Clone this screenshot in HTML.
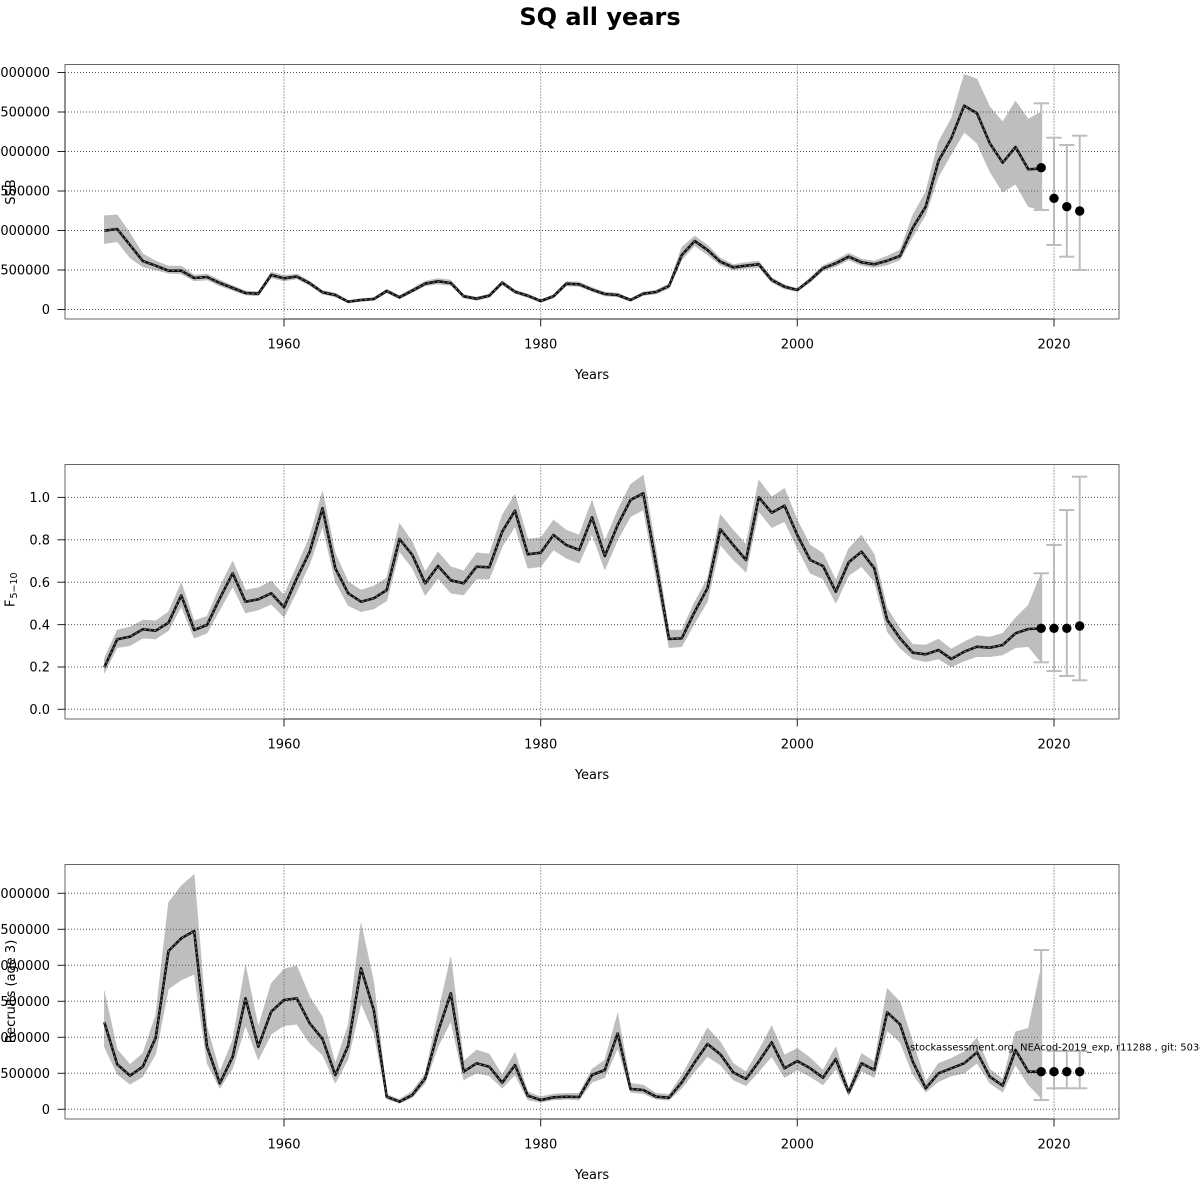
<!DOCTYPE html>
<html><head><meta charset="utf-8"><style>
html,body{margin:0;padding:0;background:#fff;}
svg{display:block;font-family:"DejaVu Sans","Liberation Sans",sans-serif;}
.grid{stroke:#555;stroke-width:1;stroke-dasharray:1,2;fill:none;}
.box{stroke:#666;stroke-width:1;fill:none;}
.ax{stroke:#222;stroke-width:1;fill:none;}
.band{fill:#bebebe;stroke:#bebebe;stroke-width:0.5;}
.ml{fill:none;stroke:#111;stroke-width:2.6;stroke-linejoin:round;}
.md{fill:none;stroke:#8a8a8a;stroke-width:0.9;stroke-dasharray:2,3;}
.eb{stroke:#bdbdbd;stroke-width:2;fill:none;}
.tl{font-size:13px;fill:#000;}
</style></head><body>
<svg width="1200" height="1200" viewBox="0 0 1200 1200" xmlns="http://www.w3.org/2000/svg">
<rect width="1200" height="1200" fill="#fff"/>
<text x="600" y="25" text-anchor="middle" font-size="24" font-weight="bold">SQ all years</text>

<!-- ============ TOP PANEL: SSB ============ -->
<polygon class="band" points="104.3,215.7 117.2,214.7 130,233 142.8,253.7 155.7,261 168.5,266 181.3,266 194.2,275 207,274 219.8,280 232.7,285.5 245.5,291 258.3,291.5 271.2,272 284,275.5 296.8,274 309.7,281 322.5,290.5 335.3,293 348.2,300.5 361,298.5 373.8,297.5 386.7,289 399.5,295.5 412.3,288.5 425.2,281 438,278.5 450.8,280 463.7,294.5 476.5,297 489.3,294 502.2,280.5 515,290 527.8,294 540.7,299.5 553.5,294.5 566.3,281.5 579.2,282 592,287.5 604.8,292 617.7,293 630.5,298.5 643.3,292 656.2,290 669,283.5 681.8,247 694.7,236 707.5,245 720.3,258 733.2,264.5 746,262.5 758.8,261 771.7,277.5 784.5,284.5 797.3,288.5 810.2,277.5 823,265.5 835.8,260 848.7,253 861.5,259 874.3,261 887.2,256 900,250 912.8,215 925.7,191.7 938.5,141.7 951.3,118.3 964.2,74.3 977,79 989.8,106.7 1002.7,121.7 1015.5,101 1028.3,119 1041.2,111.7 1041.2,210 1028.3,206.7 1015.5,184.3 1002.7,192.3 989.8,171.7 977,143.3 964.2,132.3 951.3,154.3 938.5,176.7 925.7,215 912.8,236.7 900,260 887.2,265 874.3,267.5 861.5,265.5 848.7,260 835.8,266.5 823,271 810.2,282.5 797.3,291.5 784.5,289 771.7,282.5 758.8,267.5 746,268.5 733.2,270 720.3,265 707.5,255 694.7,245.7 681.8,260 669,288.5 656.2,294 643.3,295.5 630.5,301.5 617.7,297 604.8,296 592,291.5 579.2,286.5 566.3,286 553.5,298 540.7,302.5 527.8,297.5 515,293.5 502.2,285 489.3,297.5 476.5,300.5 463.7,298 450.8,285.5 438,284 425.2,286 412.3,292.5 399.5,299 386.7,293 373.8,300.5 361,301.5 348.2,303 335.3,297 322.5,294 309.7,285.5 296.8,279 284,281 271.2,278 258.3,296 245.5,295 232.7,290.5 219.8,286 207,280 194.2,281 181.3,274 168.5,273.3 155.7,270 142.8,267 130,258 117.2,241.7 104.3,243.7"/>
<g class="grid">
<line x1="65" x2="1119" y1="309.5" y2="309.5"/><line x1="65" x2="1119" y1="270" y2="270"/><line x1="65" x2="1119" y1="230.5" y2="230.5"/><line x1="65" x2="1119" y1="191" y2="191"/><line x1="65" x2="1119" y1="151.5" y2="151.5"/><line x1="65" x2="1119" y1="112" y2="112"/><line x1="65" x2="1119" y1="72.5" y2="72.5"/>
<line x1="284" x2="284" y1="64.5" y2="319"/><line x1="540.7" x2="540.7" y1="64.5" y2="319"/><line x1="797.3" x2="797.3" y1="64.5" y2="319"/><line x1="1054" x2="1054" y1="64.5" y2="319"/>
</g>
<polyline class="ml" points="104.3,230.7 117.2,229 130,245 142.8,261 155.7,265.7 168.5,270.7 181.3,270.7 194.2,278 207,277 219.8,283 232.7,288 245.5,293 258.3,293.7 271.2,275 284,278.3 296.8,276.5 309.7,283.3 322.5,292.3 335.3,295 348.2,301.7 361,300 373.8,299 386.7,291 399.5,297.3 412.3,290.7 425.2,283.7 438,281.3 450.8,283 463.7,296.3 476.5,298.7 489.3,295.7 502.2,282.7 515,291.7 527.8,295.7 540.7,301 553.5,296.3 566.3,283.7 579.2,284.3 592,289.7 604.8,294 617.7,295 630.5,300 643.3,293.7 656.2,292 669,286 681.8,255 694.7,241 707.5,250 720.3,261.7 733.2,267.3 746,265.7 758.8,264.3 771.7,280 784.5,286.7 797.3,290 810.2,280 823,268.3 835.8,263.3 848.7,256.7 861.5,262.3 874.3,264.3 887.2,260.7 900,256 912.8,227.7 925.7,206.7 938.5,161 951.3,138.3 964.2,105.7 977,113.3 989.8,143.3 1002.7,162.7 1015.5,147 1028.3,169.3 1041.2,168.5"/>
<polyline class="md" points="104.3,230.7 117.2,229 130,245 142.8,261 155.7,265.7 168.5,270.7 181.3,270.7 194.2,278 207,277 219.8,283 232.7,288 245.5,293 258.3,293.7 271.2,275 284,278.3 296.8,276.5 309.7,283.3 322.5,292.3 335.3,295 348.2,301.7 361,300 373.8,299 386.7,291 399.5,297.3 412.3,290.7 425.2,283.7 438,281.3 450.8,283 463.7,296.3 476.5,298.7 489.3,295.7 502.2,282.7 515,291.7 527.8,295.7 540.7,301 553.5,296.3 566.3,283.7 579.2,284.3 592,289.7 604.8,294 617.7,295 630.5,300 643.3,293.7 656.2,292 669,286 681.8,255 694.7,241 707.5,250 720.3,261.7 733.2,267.3 746,265.7 758.8,264.3 771.7,280 784.5,286.7 797.3,290 810.2,280 823,268.3 835.8,263.3 848.7,256.7 861.5,262.3 874.3,264.3 887.2,260.7 900,256 912.8,227.7 925.7,206.7 938.5,161 951.3,138.3 964.2,105.7 977,113.3 989.8,143.3 1002.7,162.7 1015.5,147 1028.3,169.3 1041.2,168.5"/>
<g class="eb">
<line x1="1041.2" x2="1041.2" y1="103.3" y2="210"/><line x1="1033.5" x2="1049" y1="103.3" y2="103.3"/><line x1="1033.5" x2="1049" y1="210" y2="210"/>
<line x1="1054" x2="1054" y1="137.7" y2="245"/><line x1="1046.3" x2="1061.7" y1="137.7" y2="137.7"/><line x1="1046.3" x2="1061.7" y1="245" y2="245"/>
<line x1="1066.8" x2="1066.8" y1="145" y2="256.7"/><line x1="1059.1" x2="1074.5" y1="145" y2="145"/><line x1="1059.1" x2="1074.5" y1="256.7" y2="256.7"/>
<line x1="1079.7" x2="1079.7" y1="135.7" y2="270"/><line x1="1072" x2="1087.4" y1="135.7" y2="135.7"/><line x1="1072" x2="1087.4" y1="270" y2="270"/>
</g>
<g fill="#000"><circle cx="1041.2" cy="167.7" r="4.7"/><circle cx="1054" cy="198.3" r="4.7"/><circle cx="1066.8" cy="206.7" r="4.7"/><circle cx="1079.7" cy="211" r="4.7"/></g>
<rect class="box" x="65" y="64.5" width="1054" height="254.5"/>
<g class="ax">
<line x1="65" x2="65" y1="72.5" y2="309.5"/>
<line x1="57.5" x2="65" y1="309.5" y2="309.5"/><line x1="57.5" x2="65" y1="270" y2="270"/><line x1="57.5" x2="65" y1="230.5" y2="230.5"/><line x1="57.5" x2="65" y1="191" y2="191"/><line x1="57.5" x2="65" y1="151.5" y2="151.5"/><line x1="57.5" x2="65" y1="112" y2="112"/><line x1="57.5" x2="65" y1="72.5" y2="72.5"/>
<line x1="284" x2="1054" y1="319" y2="319"/>
<line x1="284" x2="284" y1="319" y2="326.5"/><line x1="540.7" x2="540.7" y1="319" y2="326.5"/><line x1="797.3" x2="797.3" y1="319" y2="326.5"/><line x1="1054" x2="1054" y1="319" y2="326.5"/>
</g>
<g class="tl" text-anchor="end">
<text x="50" y="314.2">0</text><text x="50" y="274.7">500000</text><text x="50" y="235.2">1000000</text><text x="50" y="195.7">1500000</text><text x="50" y="156.2">2000000</text><text x="50" y="116.7">2500000</text><text x="50" y="77.2">3000000</text>
</g>
<g class="tl" text-anchor="middle">
<text x="284" y="348.3">1960</text><text x="540.7" y="348.3">1980</text><text x="797.3" y="348.3">2000</text><text x="1054" y="348.3">2020</text>
<text x="592" y="379">Years</text>
</g>
<text class="tl" transform="translate(15,192) rotate(-90)" text-anchor="middle">SSB</text>

<!-- ============ MIDDLE PANEL: F ============ -->
<polygon class="band" points="104.3,658.3 117.2,630 130,627 142.8,620 155.7,620.7 168.5,611.7 181.3,582.7 194.2,620.7 207,616.3 219.8,586.7 232.7,561 245.5,590 258.3,587.7 271.2,581 284,595 296.8,566 309.7,536.7 322.5,491 335.3,553.3 348.2,581.7 361,590 373.8,586 386.7,577.7 399.5,523.3 412.3,541.7 425.2,571.7 438,551.7 450.8,566.7 463.7,570.7 476.5,552.7 489.3,554 502.2,515 515,494.3 527.8,539 540.7,537.7 553.5,520 566.3,530 579.2,535 592,500 604.8,541 617.7,510 630.5,484.3 643.3,475 656.2,550 669,630 681.8,630 694.7,601.7 707.5,578.3 720.3,514.3 733.2,530 746,544.3 758.8,480 771.7,496.7 784.5,488.3 797.3,520 810.2,545 823,553.3 835.8,580 848.7,548.3 861.5,535 874.3,554.3 887.2,608.3 900,628.3 912.8,644.3 925.7,645 938.5,639 951.3,649 964.2,641.7 977,635.7 989.8,637 1002.7,633.3 1015.5,617.7 1028.3,605 1041.2,573.3 1041.2,662.3 1028.3,646.7 1015.5,647.7 1002.7,655 989.8,656.7 977,656.7 964.2,661 951.3,667 938.5,659 925.7,661.7 912.8,659 900,648.3 887.2,631.7 874.3,581.7 861.5,566.7 848.7,575.7 835.8,603.3 823,579 810.2,573.3 797.3,548.3 784.5,521.7 771.7,527.7 758.8,511.7 746,572.3 733.2,560 720.3,545 707.5,601.7 694.7,623.3 681.8,646.7 669,647.7 656.2,580 643.3,510 630.5,516.7 617.7,540 604.8,570 592,534.3 579.2,563.3 566.3,558.3 553.5,550 540.7,566.7 527.8,568.3 515,526.7 502.2,546.7 489.3,579.3 476.5,579 463.7,595 450.8,593.3 438,578.3 425.2,595.7 412.3,568.3 399.5,551.7 386.7,601 373.8,609 361,611.7 348.2,605.7 335.3,581.7 322.5,526.7 309.7,564.3 296.8,591.7 284,617.3 271.2,604.3 258.3,610 245.5,613 232.7,586.7 219.8,610 207,633.3 194.2,638.3 181.3,606.7 168.5,630.7 155.7,639 142.8,638.3 130,645.7 117.2,647.7 104.3,673.3"/>
<g class="grid">
<line x1="65" x2="1119" y1="709.3" y2="709.3"/><line x1="65" x2="1119" y1="667" y2="667"/><line x1="65" x2="1119" y1="624.6" y2="624.6"/><line x1="65" x2="1119" y1="582.2" y2="582.2"/><line x1="65" x2="1119" y1="539.8" y2="539.8"/><line x1="65" x2="1119" y1="497.4" y2="497.4"/>
<line x1="284" x2="284" y1="464.5" y2="719"/><line x1="540.7" x2="540.7" y1="464.5" y2="719"/><line x1="797.3" x2="797.3" y1="464.5" y2="719"/><line x1="1054" x2="1054" y1="464.5" y2="719"/>
</g>
<polyline class="ml" points="104.3,667.3 117.2,639.3 130,636.7 142.8,629.3 155.7,630.7 168.5,622.7 181.3,595.3 194.2,630 207,625 219.8,598.3 232.7,573.3 245.5,601.7 258.3,599.3 271.2,593.3 284,607.3 296.8,578.3 309.7,551.7 322.5,508.3 335.3,568.3 348.2,593.3 361,601.7 373.8,598.3 386.7,590 399.5,539 412.3,555 425.2,583.3 438,566 450.8,580.3 463.7,583.3 476.5,566.7 489.3,567.3 502.2,531.7 515,510.7 527.8,554.3 540.7,552.7 553.5,535 566.3,545 579.2,550 592,517.3 604.8,556 617.7,525 630.5,500 643.3,493.3 656.2,565 669,639 681.8,638.3 694.7,611.7 707.5,588.3 720.3,529.3 733.2,545 746,560 758.8,497.3 771.7,512.7 784.5,505.7 797.3,535 810.2,560 823,566 835.8,591.7 848.7,562.3 861.5,551.7 874.3,568.3 887.2,620 900,638.3 912.8,652.7 925.7,654.3 938.5,650 951.3,659 964.2,651.7 977,646.7 989.8,647.7 1002.7,645 1015.5,633.3 1028.3,629 1041.2,628.5"/>
<polyline class="md" points="104.3,667.3 117.2,639.3 130,636.7 142.8,629.3 155.7,630.7 168.5,622.7 181.3,595.3 194.2,630 207,625 219.8,598.3 232.7,573.3 245.5,601.7 258.3,599.3 271.2,593.3 284,607.3 296.8,578.3 309.7,551.7 322.5,508.3 335.3,568.3 348.2,593.3 361,601.7 373.8,598.3 386.7,590 399.5,539 412.3,555 425.2,583.3 438,566 450.8,580.3 463.7,583.3 476.5,566.7 489.3,567.3 502.2,531.7 515,510.7 527.8,554.3 540.7,552.7 553.5,535 566.3,545 579.2,550 592,517.3 604.8,556 617.7,525 630.5,500 643.3,493.3 656.2,565 669,639 681.8,638.3 694.7,611.7 707.5,588.3 720.3,529.3 733.2,545 746,560 758.8,497.3 771.7,512.7 784.5,505.7 797.3,535 810.2,560 823,566 835.8,591.7 848.7,562.3 861.5,551.7 874.3,568.3 887.2,620 900,638.3 912.8,652.7 925.7,654.3 938.5,650 951.3,659 964.2,651.7 977,646.7 989.8,647.7 1002.7,645 1015.5,633.3 1028.3,629 1041.2,628.5"/>
<g class="eb">
<line x1="1041.2" x2="1041.2" y1="573.3" y2="662.3"/><line x1="1033.5" x2="1049" y1="573.3" y2="573.3"/><line x1="1033.5" x2="1049" y1="662.3" y2="662.3"/>
<line x1="1054" x2="1054" y1="545" y2="671"/><line x1="1046.3" x2="1061.7" y1="545" y2="545"/><line x1="1046.3" x2="1061.7" y1="671" y2="671"/>
<line x1="1066.8" x2="1066.8" y1="510" y2="676"/><line x1="1059.1" x2="1074.5" y1="510" y2="510"/><line x1="1059.1" x2="1074.5" y1="676" y2="676"/>
<line x1="1079.7" x2="1079.7" y1="476.7" y2="680.3"/><line x1="1072" x2="1087.4" y1="476.7" y2="476.7"/><line x1="1072" x2="1087.4" y1="680.3" y2="680.3"/>
</g>
<g fill="#000"><circle cx="1041.2" cy="628.3" r="4.7"/><circle cx="1054" cy="628.3" r="4.7"/><circle cx="1066.8" cy="628.3" r="4.7"/><circle cx="1079.7" cy="626" r="4.7"/></g>
<rect class="box" x="65" y="464.5" width="1054" height="254.5"/>
<g class="ax">
<line x1="65" x2="65" y1="497.4" y2="709.3"/>
<line x1="57.5" x2="65" y1="709.3" y2="709.3"/><line x1="57.5" x2="65" y1="667" y2="667"/><line x1="57.5" x2="65" y1="624.6" y2="624.6"/><line x1="57.5" x2="65" y1="582.2" y2="582.2"/><line x1="57.5" x2="65" y1="539.8" y2="539.8"/><line x1="57.5" x2="65" y1="497.4" y2="497.4"/>
<line x1="284" x2="1054" y1="719" y2="719"/>
<line x1="284" x2="284" y1="719" y2="726.5"/><line x1="540.7" x2="540.7" y1="719" y2="726.5"/><line x1="797.3" x2="797.3" y1="719" y2="726.5"/><line x1="1054" x2="1054" y1="719" y2="726.5"/>
</g>
<g class="tl" text-anchor="end">
<text x="50" y="714">0.0</text><text x="50" y="671.7">0.2</text><text x="50" y="629.3">0.4</text><text x="50" y="586.9">0.6</text><text x="50" y="544.5">0.8</text><text x="50" y="502.1">1.0</text>
</g>
<g class="tl" text-anchor="middle">
<text x="284" y="748.3">1960</text><text x="540.7" y="748.3">1980</text><text x="797.3" y="748.3">2000</text><text x="1054" y="748.3">2020</text>
<text x="592" y="779">Years</text>
</g>
<text class="tl" transform="translate(14.5,607) rotate(-90)">F<tspan font-size="9.5" dy="2.5" dx="1">5−10</tspan></text>

<!-- ============ BOTTOM PANEL: Recruits ============ -->
<polygon class="band" points="104.3,991 117.2,1049.3 130,1064.3 142.8,1053.3 155.7,1015 168.5,902.3 181.3,885.7 194.2,874.3 207,1026.7 219.8,1071.7 232.7,1040 245.5,965 258.3,1026.7 271.2,983.3 284,969 296.8,965.7 309.7,996.7 322.5,1016.7 335.3,1063.3 348.2,1025 361,923.3 373.8,981.7 386.7,1094.3 399.5,1099.3 412.3,1091 425.2,1073.3 438,1013.3 450.8,956.7 463.7,1061 476.5,1050 489.3,1054 502.2,1075 515,1052.3 527.8,1091.7 540.7,1096.7 553.5,1094 566.3,1093.3 579.2,1093.3 592,1069 604.8,1060 617.7,1013.3 630.5,1083.3 643.3,1085 656.2,1093.3 669,1094.3 681.8,1075 694.7,1051.7 707.5,1027.7 720.3,1041.7 733.2,1063.3 746,1071.7 758.8,1050 771.7,1025.7 784.5,1055 797.3,1048.3 810.2,1057.7 823,1070 835.8,1046.7 848.7,1088.3 861.5,1053.3 874.3,1061.7 887.2,988.3 900,1001.7 912.8,1041.7 925.7,1081.7 938.5,1063.3 951.3,1058.3 964.2,1051.7 977,1037.7 989.8,1069 1002.7,1079 1015.5,1031.7 1028.3,1028.3 1041.2,966.7 1041.2,1098.3 1028.3,1085 1015.5,1065 1002.7,1092.3 989.8,1083.3 977,1063.3 964.2,1073.3 951.3,1076 938.5,1081.7 925.7,1092.3 912.8,1074.3 900,1042.3 887.2,1031 874.3,1077.7 861.5,1071 848.7,1095.7 835.8,1069 823,1085 810.2,1076.7 797.3,1070 784.5,1077.7 771.7,1056.7 758.8,1071.7 746,1085.7 733.2,1080 720.3,1065 707.5,1056.7 694.7,1071.7 681.8,1088.3 669,1100.3 656.2,1099.3 643.3,1093.7 630.5,1092.3 617.7,1048.3 604.8,1077.7 592,1082.3 579.2,1100 566.3,1099.3 553.5,1100 540.7,1102.3 527.8,1100 515,1075 502.2,1088.3 489.3,1075.7 476.5,1073.3 463.7,1080 450.8,1021.7 438,1046.7 425.2,1083.3 412.3,1097.7 399.5,1103.3 386.7,1099 373.8,1033.3 361,1003.3 348.2,1059 335.3,1083.3 322.5,1055 309.7,1043.3 296.8,1024.3 284,1025.7 271.2,1034.3 258.3,1060 245.5,1025.7 232.7,1068.3 219.8,1088.3 207,1063.3 194.2,974.3 181.3,980 168.5,989 155.7,1054.3 142.8,1076.7 130,1084.3 117.2,1074.3 104.3,1046.7"/>
<g class="grid">
<line x1="65" x2="1119" y1="1109.3" y2="1109.3"/><line x1="65" x2="1119" y1="1073.3" y2="1073.3"/><line x1="65" x2="1119" y1="1037.3" y2="1037.3"/><line x1="65" x2="1119" y1="1001.3" y2="1001.3"/><line x1="65" x2="1119" y1="965.3" y2="965.3"/><line x1="65" x2="1119" y1="929.3" y2="929.3"/><line x1="65" x2="1119" y1="893.3" y2="893.3"/>
<line x1="284" x2="284" y1="864.5" y2="1119"/><line x1="540.7" x2="540.7" y1="864.5" y2="1119"/><line x1="797.3" x2="797.3" y1="864.5" y2="1119"/><line x1="1054" x2="1054" y1="864.5" y2="1119"/>
</g>
<polyline class="ml" points="104.3,1022.3 117.2,1064.3 130,1075.7 142.8,1066.7 155.7,1037.7 168.5,951 181.3,938.3 194.2,931 207,1046.7 219.8,1083.3 232.7,1056.7 245.5,998.3 258.3,1046.7 271.2,1011.7 284,1000 296.8,998.3 309.7,1023.3 322.5,1039 335.3,1075 348.2,1045.7 361,968.3 373.8,1010 386.7,1096.7 399.5,1101.7 412.3,1095 425.2,1078.3 438,1031.7 450.8,993.3 463.7,1071.7 476.5,1063.3 489.3,1066.7 502.2,1082.7 515,1065 527.8,1095.7 540.7,1100 553.5,1097.3 566.3,1096.7 579.2,1097 592,1075 604.8,1070 617.7,1033.3 630.5,1089 643.3,1090 656.2,1096.7 669,1097.7 681.8,1082.3 694.7,1062.3 707.5,1044 720.3,1054.3 733.2,1072.3 746,1079 758.8,1061.7 771.7,1042.3 784.5,1068.3 797.3,1061 810.2,1068.3 823,1077.7 835.8,1059 848.7,1092.3 861.5,1063.3 874.3,1070 887.2,1012.3 900,1024.3 912.8,1061.7 925.7,1088.3 938.5,1073.3 951.3,1068.3 964.2,1063.3 977,1052.3 989.8,1076.7 1002.7,1085.7 1015.5,1050 1028.3,1071.7 1041.2,1071.7"/>
<polyline class="md" points="104.3,1022.3 117.2,1064.3 130,1075.7 142.8,1066.7 155.7,1037.7 168.5,951 181.3,938.3 194.2,931 207,1046.7 219.8,1083.3 232.7,1056.7 245.5,998.3 258.3,1046.7 271.2,1011.7 284,1000 296.8,998.3 309.7,1023.3 322.5,1039 335.3,1075 348.2,1045.7 361,968.3 373.8,1010 386.7,1096.7 399.5,1101.7 412.3,1095 425.2,1078.3 438,1031.7 450.8,993.3 463.7,1071.7 476.5,1063.3 489.3,1066.7 502.2,1082.7 515,1065 527.8,1095.7 540.7,1100 553.5,1097.3 566.3,1096.7 579.2,1097 592,1075 604.8,1070 617.7,1033.3 630.5,1089 643.3,1090 656.2,1096.7 669,1097.7 681.8,1082.3 694.7,1062.3 707.5,1044 720.3,1054.3 733.2,1072.3 746,1079 758.8,1061.7 771.7,1042.3 784.5,1068.3 797.3,1061 810.2,1068.3 823,1077.7 835.8,1059 848.7,1092.3 861.5,1063.3 874.3,1070 887.2,1012.3 900,1024.3 912.8,1061.7 925.7,1088.3 938.5,1073.3 951.3,1068.3 964.2,1063.3 977,1052.3 989.8,1076.7 1002.7,1085.7 1015.5,1050 1028.3,1071.7 1041.2,1071.7"/>
<g class="eb">
<line x1="1041.2" x2="1041.2" y1="950" y2="1100"/><line x1="1033.5" x2="1049" y1="950" y2="950"/><line x1="1033.5" x2="1049" y1="1100" y2="1100"/>
<line x1="1054" x2="1054" y1="1051" y2="1088.3"/><line x1="1046.3" x2="1061.7" y1="1051" y2="1051"/><line x1="1046.3" x2="1061.7" y1="1088.3" y2="1088.3"/>
<line x1="1066.8" x2="1066.8" y1="1051" y2="1088.3"/><line x1="1059.1" x2="1074.5" y1="1051" y2="1051"/><line x1="1059.1" x2="1074.5" y1="1088.3" y2="1088.3"/>
<line x1="1079.7" x2="1079.7" y1="1051" y2="1088.3"/><line x1="1072" x2="1087.4" y1="1051" y2="1051"/><line x1="1072" x2="1087.4" y1="1088.3" y2="1088.3"/>
</g>
<g fill="#000"><circle cx="1041.2" cy="1071.7" r="4.7"/><circle cx="1054" cy="1071.7" r="4.7"/><circle cx="1066.8" cy="1071.7" r="4.7"/><circle cx="1079.7" cy="1071.7" r="4.7"/></g>
<text x="910" y="1050.5" font-size="9.9" fill="#000">stockassessment.org, NEAcod-2019_exp, r11288 , git: 503c8e5f</text>
<rect class="box" x="65" y="864.5" width="1054" height="254.5"/>
<g class="ax">
<line x1="65" x2="65" y1="893.3" y2="1109.3"/>
<line x1="57.5" x2="65" y1="1109.3" y2="1109.3"/><line x1="57.5" x2="65" y1="1073.3" y2="1073.3"/><line x1="57.5" x2="65" y1="1037.3" y2="1037.3"/><line x1="57.5" x2="65" y1="1001.3" y2="1001.3"/><line x1="57.5" x2="65" y1="965.3" y2="965.3"/><line x1="57.5" x2="65" y1="929.3" y2="929.3"/><line x1="57.5" x2="65" y1="893.3" y2="893.3"/>
<line x1="284" x2="1054" y1="1119" y2="1119"/>
<line x1="284" x2="284" y1="1119" y2="1126.5"/><line x1="540.7" x2="540.7" y1="1119" y2="1126.5"/><line x1="797.3" x2="797.3" y1="1119" y2="1126.5"/><line x1="1054" x2="1054" y1="1119" y2="1126.5"/>
</g>
<g class="tl" text-anchor="end">
<text x="50" y="1114">0</text><text x="50" y="1078">500000</text><text x="50" y="1042">1000000</text><text x="50" y="1006">1500000</text><text x="50" y="970">2000000</text><text x="50" y="934">2500000</text><text x="50" y="898">3000000</text>
</g>
<g class="tl" text-anchor="middle">
<text x="284" y="1148.3">1960</text><text x="540.7" y="1148.3">1980</text><text x="797.3" y="1148.3">2000</text><text x="1054" y="1148.3">2020</text>
<text x="592" y="1179">Years</text>
</g>
<text class="tl" transform="translate(15,991.5) rotate(-90)" text-anchor="middle">Recruits (age 3)</text>
</svg>
</body></html>
